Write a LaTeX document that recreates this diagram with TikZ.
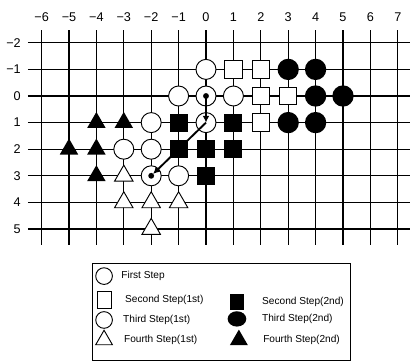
\documentclass[tikz,border=0pt]{standalone}
\usepackage{fontspec}
\setmainfont{Liberation Sans}
\usetikzlibrary{shapes.geometric, arrows.meta}

\begin{document}
\begin{tikzpicture}[
  x=20.55pt, y=-19.95pt,
  gridline/.style={line width=0.9pt},
  axislabel/.style={font=\fontsize{9.5}{11}\selectfont, inner sep=0pt},
  opencirc/.style={circle, draw, fill=white, line width=0.7pt, minimum size=15pt, inner sep=0pt},
  fullcirc/.style={circle, fill=black, minimum size=16pt, inner sep=0pt},
  opensq/.style={rectangle, draw, fill=white, line width=0.7pt, minimum size=13pt, inner sep=0pt},
  fullsq/.style={rectangle, fill=black, minimum size=13.5pt, inner sep=0pt},
  opentri/.style={regular polygon, regular polygon sides=3, draw, fill=white, line width=0.7pt, minimum size=16pt, inner sep=0pt},
  fulltri/.style={regular polygon, regular polygon sides=3, fill=black, minimum size=16pt, inner sep=0pt},
  route/.style={line width=1.4pt, -{Latex[length=5pt,width=5pt]}},
  legtext/.style={font=\fontsize{7.6}{9}\selectfont, anchor=west, inner sep=0pt}
]
\useasboundingbox (-7.518,-3.609) rectangle (7.518,9.962);

% grid and axis numbers
\foreach \c/\t in {-6/{−6},-5/{−5},-4/{−4},-3/{−3},-2/{−2},-1/{−1},0/0,1/1,2/2,3/3,4/4,5/5,6/6,7/7} {
  \draw[gridline] (\c,-2.48) -- (\c,5.6);
  \node[axislabel] (col\c) at (\c,-2.97) {\t};
}
\foreach \r/\t in {-2/{−2},-1/{−1},0/0,1/1,2/2,3/3,4/4,5/5} {
  \draw[gridline] (-6.5,\r) -- (7.45,\r);
  \node[axislabel, anchor=east] (row\r) at (-6.75,\r) {\t};
}

% steps
\foreach \x/\y in {0/-1,-1/0,0/0,1/0,-2/1,0/1,-3/2,-2/2,-2/3,-1/3}
  \node[opencirc] (p\x_\y) at (\x,\y) {};
\foreach \x/\y in {1/-1,2/-1,2/0,3/0,2/1}
  \node[opensq] (p\x_\y) at (\x,\y) {};
\foreach \x/\y in {-1/1,1/1,-1/2,0/2,1/2,0/3}
  \node[fullsq] (p\x_\y) at (\x,\y) {};
\foreach \x/\y in {3/-1,4/-1,4/0,5/0,3/1,4/1}
  \node[fullcirc] (p\x_\y) at (\x,\y) {};
\foreach \x/\y in {-3/3,-3/4,-2/4,-1/4,-2/5}
  \node[opentri] (p\x_\y) at (\x,\y) {};
\foreach \x/\y in {-4/1,-3/1,-5/2,-4/2,-4/3}
  \node[fulltri] (p\x_\y) at (\x,\y) {};

% path of the search
\fill (p0_0.center) circle (2.2pt);
\fill (p-2_3.center) circle (2.2pt);
\draw[route] (p0_0.center) -- (p0_1.center);
\draw[route, shorten >=2pt] (p0_1.center) -- (p-2_3.center);

% legend
\draw[line width=0.7pt] (-4.16,6.28) rectangle (5.26,9.96);
\node[opencirc, minimum size=12.5pt] (lg1) at (-3.72,6.77) {};
\node[opensq, minimum width=10.5pt, minimum height=12.5pt] (lg2) at (-3.72,7.67) {};
\node[opencirc, minimum size=12.5pt] (lg3) at (-3.72,8.42) {};
\node[opentri, minimum size=14.5pt] (lg4) at (-3.72,9.17) {};
\node[fullsq, minimum width=10pt, minimum height=12pt] (lg5) at (1.13,7.74) {};
\node[fullcirc, minimum width=14pt, minimum height=11.5pt, ellipse] (lg6) at (1.13,8.38) {};
\node[fulltri, minimum size=15.5pt] (lg7) at (1.2,9.17) {};
\node[legtext] (lt1) at (-3.1,6.77) {First Step};
\node[legtext] (lt2) at (-2.96,7.67) {Second Step(1st)};
\node[legtext] (lt3) at (-3.03,8.42) {Third Step(1st)};
\node[legtext] (lt4) at (-3.0,9.17) {Fourth Step(1st)};
\node[legtext] (lt5) at (2.04,7.74) {Second Step(2nd)};
\node[legtext] (lt6) at (2.04,8.38) {Third Step(2nd)};
\node[legtext] (lt7) at (2.08,9.17) {Fourth Step(2nd)};
\end{tikzpicture}
\end{document}
